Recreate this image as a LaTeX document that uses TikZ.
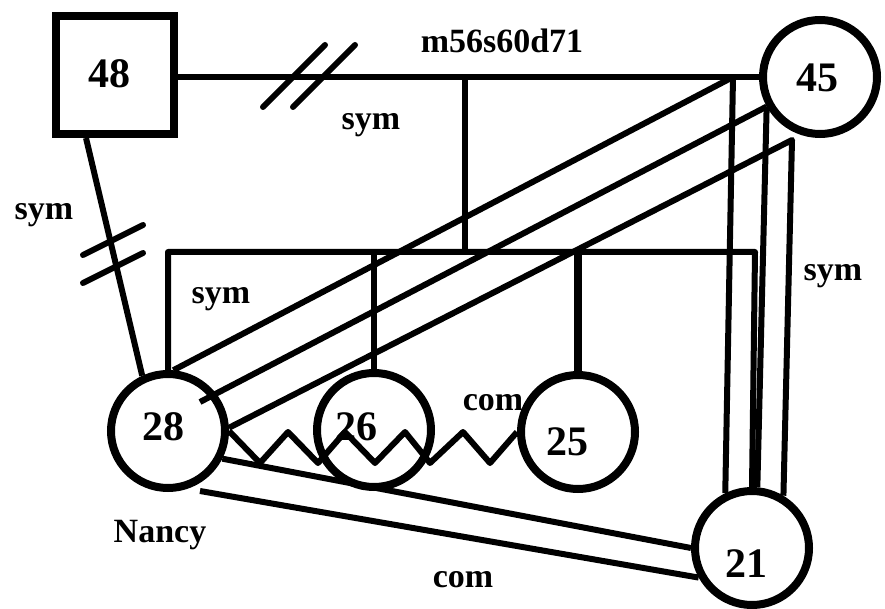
\documentclass[tikz,border=0pt]{standalone}
\usepackage{fontspec}
\setmainfont{Liberation Serif}
\usetikzlibrary{calc}
\tikzset{
  person/.style={circle,draw,line width=8pt,minimum size=114pt,inner sep=0pt},
  male/.style={rectangle,draw,line width=8pt,minimum size=118pt,inner sep=0pt},
  rel/.style={line width=6pt,line join=round},
  hash/.style={line width=6pt,line cap=round},
  lbl/.style={font=\bfseries\fontsize{34}{40}\selectfont,anchor=base,inner sep=0pt},
  num/.style={font=\bfseries\fontsize{42}{48}\selectfont,anchor=base,inner sep=0pt},
}
\begin{document}
\begin{tikzpicture}[x=1pt,y=-1pt]
\useasboundingbox (0,0) rectangle (885,609);
% people
\node[male]   (n48) at (115,75)  {};
\node[person] (n45) at (820,77)  {};
\node[person] (n28) at (168,431) {};
\node[person] (n26) at (374,430) {};
\node[person] (n25) at (578,432) {};
\node[person] (n21) at (752,548) {};
% numbers
\node[num] (t48) at (109,88)  {48};
\node[num] (t45) at (817,92)  {45};
\node[num] (t28) at (163,440) {28};
\node[num] (t26) at (356,440) {26};
\node[num] (t25) at (567,455) {25};
\node[num] (t21) at (746,577) {21};
% helper coordinates
\coordinate (tj) at (465,77);
\coordinate (tR) at (733,77);
\coordinate (sL) at (168,252);
\coordinate (sR) at (755,252);
\coordinate (kR) at (792,140);
\coordinate (d2s) at (200,402);
% marriage line
\draw[rel] (n48.east |- tj) -- (tj) -- (tR) -- (n45.west |- tj);
\draw[rel] (tj) -- (tj |- sL);
% sibship line
\draw[rel] (n28.north) -- (sL) -- (sR) -- (n21.north);
\draw[rel] (n26.north |- sL) -- (n26.north);
\draw[line width=8pt] (n25.north |- sL) -- (n25.north);
% lines to 21
\draw[rel] (tR) -- (n21.116);
\draw[rel] (n45.209) -- (n21.85);
\draw[rel] (n28.3) -- (kR) -- (n21.59);
% diagonals 28 -- 45
\draw[rel] (n28.85) -- (tR);
\draw[rel] (d2s) -- (n45.209);
% 48 -- 28
\draw[rel] (n48.south west) ++(34,0) coordinate (b48) -- (n28.115);
% lines 28 -- 21
\draw[rel] (n28.-27) -- (n21.west);
\draw[rel] ($(n28)+(32,60)$) -- (n21.209);
% zigzag
\draw[rel] (n28.east) -- (260,463) -- (288,432) -- (318,463) -- (345,432)
  -- (375,463) -- (405,432) -- (430,463) -- (463,432) -- (490,463) -- (n25.west);
% hash marks
\draw[hash] (263,107) -- (325,45);
\draw[hash] (293,107) -- (355,45);
\draw[hash] (83,255) -- (143,225);
\draw[hash] (83,283) -- (143,253);
% labels
\node[lbl] (lm) at (502,53)  {m56s60d71};
\node[lbl] (ls1) at (371,130) {sym};
\node[lbl] (ls2) at (44,220)  {sym};
\node[lbl] (ls3) at (221,304) {sym};
\node[lbl] (ls4) at (833,280) {sym};
\node[lbl] (lc1) at (493,410) {com};
\node[lbl] (lc2) at (463,587) {com};
\node[lbl] (ln) at (160,542) {Nancy};
\end{tikzpicture}
\end{document}
